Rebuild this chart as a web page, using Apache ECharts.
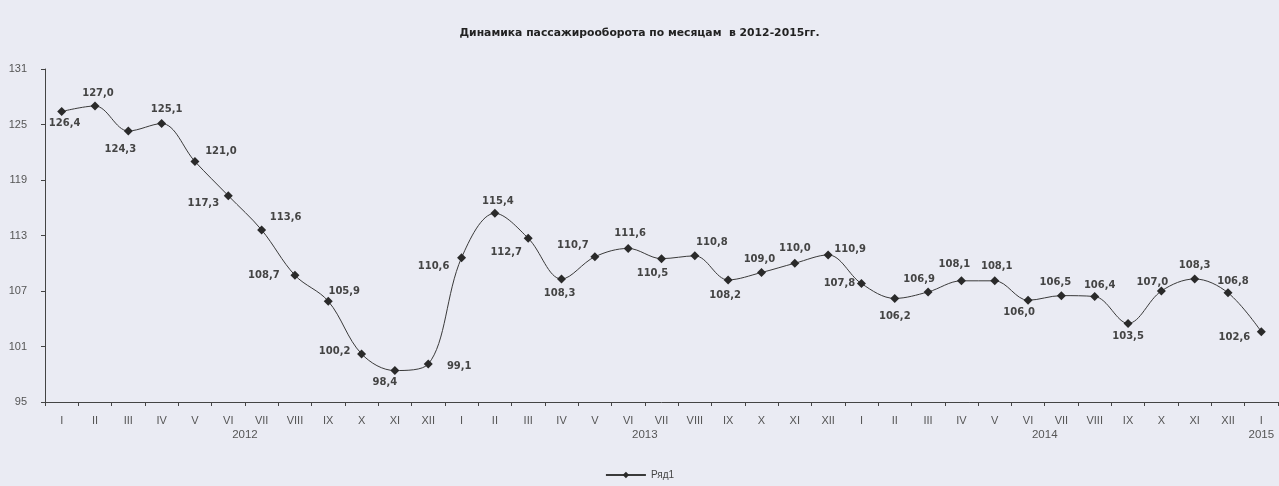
<!DOCTYPE html>
<html>
<head>
<meta charset="utf-8">
<script src="https://cdn.jsdelivr.net/npm/echarts@6/dist/echarts.min.js"></script>
<style>
html,body{margin:0;padding:0;background:#eaebf3;}
#chartmain{width:1279px;height:486px;}
</style>
</head>
<body>
<div id="chartmain"></div>
<script>
// месяцы
var months = ['I','II','III','IV','V','VI','VII','VIII','IX','X','XI','XII',
    'I','II','III','IV','V','VI','VII','VIII','IX','X','XI','XII',
    'I','II','III','IV','V','VI','VII','VIII','IX','X','XI','XII',
    'I'];
var years = ['2012','2013','2014','2015'];
var yearPos = [5.5, 17.5, 29.5, 36];
var values = [126.4,127.0,124.3,125.1,121.0,117.3,113.6,108.7,105.9,100.2,98.4,99.1,
    110.6,115.4,112.7,108.3,110.7,111.6,110.5,110.8,108.2,109.0,110.0,110.9,
    107.8,106.2,106.9,108.1,108.1,106.0,106.5,106.4,103.5,107.0,108.3,106.8,
    102.6];
var yTicks = [95,101,107,113,119,125,131];

// сдвиг подписи от точки (dx, dy)
var labelShift = [[3,12],[3,-13],[-8,18],[5,-14],[26,-10],[-25,8],[24,-13],[-31,0],[16,-10],[-27,-2],[-10,12],[31,2],
    [-28,9],[3,-12],[-22,14],[-2,14],[-22,-11],[2,-15],[-9,15],[17,-13],[-3,16],[-2,-13],[0,-15],[22,-6],
    [-22,0],[0,18],[-9,-13],[-7,-16],[2,-14],[-9,12],[-6,-13],[5,-11],[0,13],[-9,-9],[0,-14],[5,-11],
    [-27,6]];

var seriesData = [];
for (var i = 0; i < values.length; i++) {
    seriesData.push({
        value: values[i],
        label: {position: 'inside', offset: labelShift[i]}
    });
}

var option = {
    backgroundColor: '#eaebf3',
    animation: false,
    title: {
        text: 'Динамика пассажирооборота по месяцам  в 2012-2015гг.',
        left: 'center',
        top: 23,
        textStyle: {
            fontFamily: 'DejaVu Sans',
            fontSize: 10.8,
            fontWeight: 'bold',
            color: '#222'
        }
    },
    legend: {
        bottom: 1,
        left: 'center',
        itemWidth: 40,
        itemHeight: 8,
        data: ['Ряд1'],
        textStyle: {fontFamily: 'Liberation Sans, Arial', fontSize: 10, color: '#444'}
    },
    grid: {left: 45, right: 1, top: 69, bottom: 84, containLabel: false},
    xAxis: [{
        type: 'category',
        data: months,
        boundaryGap: true,
        axisLine: {lineStyle: {color: '#444', width: 1}},
        axisTick: {show: true, length: 4, lineStyle: {color: '#444'}},
        axisLabel: {
            interval: 0,
            margin: 13,
            fontFamily: 'Liberation Sans, Arial',
            fontSize: 11,
            color: '#555'
        }
    }, {
        type: 'value',
        position: 'bottom',
        min: -0.5,
        max: 36.5,
        axisLine: {show: false, onZero: false},
        axisTick: {show: false},
        splitLine: {show: false},
        axisLabel: {
            margin: 27,
            customValues: yearPos,
            formatter: function (v) {
                var idx = yearPos.indexOf(v);
                return idx >= 0 ? years[idx] : '';
            },
            fontFamily: 'Liberation Sans, Arial',
            fontSize: 11.5,
            color: '#555'
        }
    }],
    yAxis: {
        type: 'value',
        min: 95,
        max: 131,
        axisLine: {show: true, onZero: false, lineStyle: {color: '#444'}},
        axisTick: {show: true, length: 4, customValues: yTicks, lineStyle: {color: '#444'}},
        splitLine: {show: false},
        axisLabel: {
            customValues: yTicks,
            margin: 18,
            fontFamily: 'Liberation Sans, Arial',
            fontSize: 11,
            color: '#555'
        }
    },
    series: [{
        name: 'Ряд1',
        type: 'line',
        xAxisIndex: 0,
        smooth: 0.35,
        symbol: 'diamond',
        symbolSize: 9,
        data: seriesData,
        lineStyle: {color: '#3a3a3a', width: 1},
        itemStyle: {color: '#2a2a2a'},
        label: {
            show: true,
            fontFamily: 'DejaVu Sans',
            fontSize: 10,
            fontWeight: 'bold',
            color: '#444',
            formatter: function (p) {
                return p.value.toFixed(1).replace('.', ',');
            }
        }
    }]
};
var myChart = echarts.init(document.getElementById('chartmain'));
myChart.setOption(option);
</script>
</body>
</html>
